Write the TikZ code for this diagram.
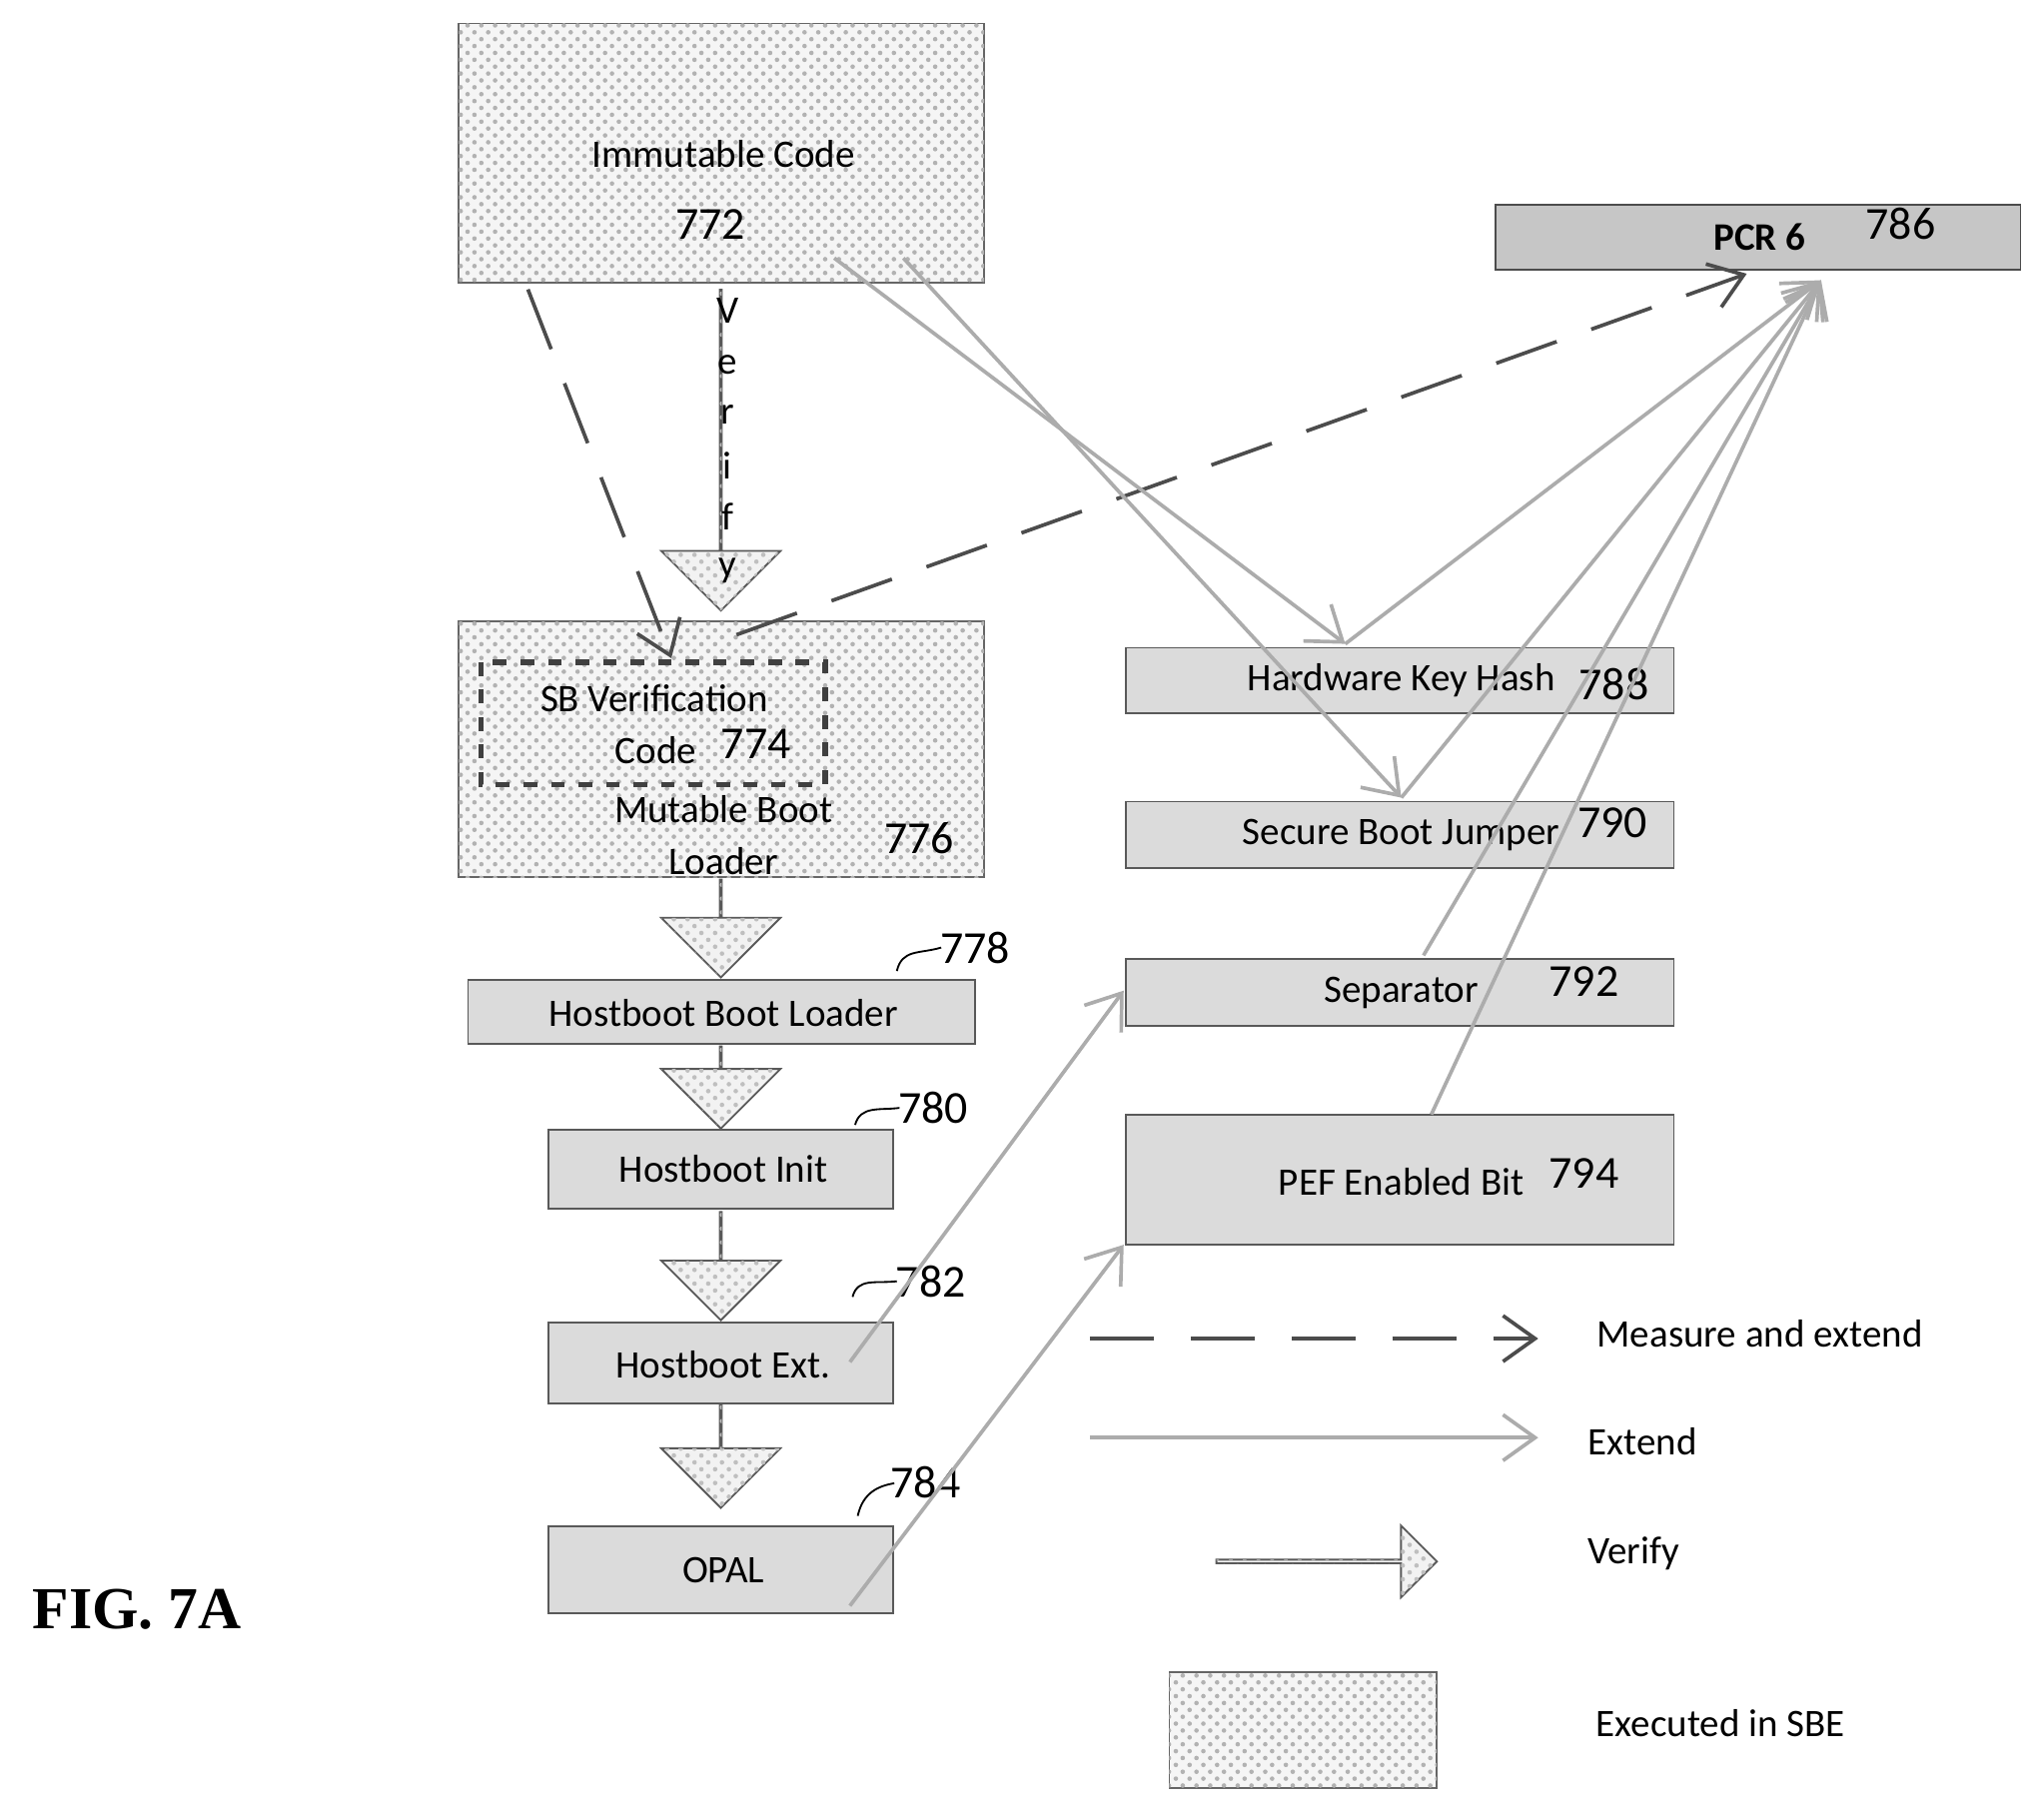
\documentclass[tikz,border=0pt]{standalone}
\usepackage{fontspec}
\setmainfont{Carlito}
\usetikzlibrary{patterns,shapes.arrows,arrows.meta}
\begin{document}
\begin{tikzpicture}[x=0.01cm,y=-0.01cm,
  sbe/.style={draw=gray!80!black,fill=gray!8,postaction={pattern=crosshatch dots,pattern color=gray!60}},
  dk/.style={draw=gray!60!black,fill=gray!45},
  md/.style={draw=gray!70!black,fill=gray!28},
  txt/.style={font=\fontsize{8.5}{10}\selectfont},
  num/.style={font=\fontsize{10}{11}\selectfont},
  harrow/.style={single arrow,draw=gray!70!black,fill=gray!10,postaction={pattern=crosshatch dots,pattern color=gray!50},single arrow head extend=0.45cm,minimum width=0.75cm,inner sep=0pt,shape border rotate=270},
  meas/.style={draw=gray!60!black,thick,dash pattern=on 14pt off 8pt,-{Straight Barb[length=7pt,width=10pt]}},
  ext/.style={draw=gray!65,thick,-{Straight Barb[length=7pt,width=10pt]}},
  lead/.style={draw=black,thin}]
\useasboundingbox (0,0) rectangle (1568,1391);
% boxes
\draw[sbe] (352,18) rectangle (755,217); \coordinate (imm) at (553,118);
\node[txt] (immt) at (555,118) {Immutable Code};
\node[num] (n772) at (545,172) {772};
\draw[dk] (1147,157) rectangle (1550,207);
\node[txt,font=\fontsize{8.5}{10}\selectfont\bfseries] (pcr) at (1350,182) {PCR 6};
\node[num] (n786) at (1458,172) {786};
\draw[sbe] (352,477) rectangle (755,673);
\draw[gray!50!black,very thick,dashed] (369,508) rectangle (633,602);
\node[txt] (sbv) at (502,536) {SB Verification};
\node[txt] (code) at (503,576) {Code};
\node[num] (n774) at (580,571) {774};
\node[txt] (mut) at (555,621) {Mutable Boot};
\node[txt] (ldr) at (555,661) {Loader};
\node[num] (n776) at (705,643) {776};
\draw[md] (359,752) rectangle (748,801); \node[txt] (hbl) at (555,777) {Hostboot Boot Loader};
\draw[md] (421,867) rectangle (685,927); \node[txt] (hbi) at (555,897) {Hostboot Init};
\draw[md] (421,1015) rectangle (685,1077); \node[txt] (hbe) at (555,1047) {Hostboot Ext.};
\draw[md] (421,1171) rectangle (685,1238); \node[txt] (opal) at (555,1205) {OPAL};
\node[num] (n778) at (748,727) {778};
\node[num] (n780) at (716,850) {780};
\node[num] (n782) at (714,983) {782};
\node[num] (n784) at (710,1137) {784};
\draw[lead] (688,745) .. controls (692,728) and (705,732) .. (722,727);
\draw[lead] (656,863) .. controls (660,848) and (675,852) .. (690,850);
\draw[lead] (654,995) .. controls (658,980) and (672,985) .. (688,983);
\draw[lead] (658,1163) .. controls (662,1145) and (674,1140) .. (686,1138);
\draw[md] (864,497) rectangle (1284,547); \node[txt] (hkh) at (1075,522) {Hardware Key Hash};
\node[num] (n788) at (1238,525) {788};
\draw[md] (864,615) rectangle (1284,666); \node[txt] (sbj) at (1075,641) {Secure Boot Jumper};
\node[num] (n790) at (1237,631) {790};
\draw[md] (864,736) rectangle (1284,787); \node[txt] (sep) at (1075,762) {Separator};
\node[num] (n792) at (1215,753) {792};
\draw[md] (864,855) rectangle (1284,955); \node[txt] (pef) at (1075,907) {PEF Enabled Bit};
\node[num] (n794) at (1215,900) {794};
% verify big arrow
\node[harrow,minimum height=246\pgflinewidth,minimum height=2.46cm] (ver) at (553,345) {};
\foreach \l/\yy in {V/238,e/280,r/318,i/357,f/396,y/438}{\node[txt] at (558,\yy) {\l};}
\node[harrow,minimum height=0.75cm] (a1) at (553,712) {};
\node[harrow,minimum height=0.63cm] (a2) at (553,834) {};
\node[harrow,minimum height=0.83cm] (a3) at (553,971) {};
\node[harrow,minimum height=0.79cm] (a4) at (553,1117) {};
% connectors
\coordinate (i1) at (405,222); \coordinate (sbt) at (515,505);
\coordinate (sbs) at (565,487); \coordinate (pcrd) at (1340,210);
\coordinate (i2) at (640,198); \coordinate (i3) at (693,198);
\coordinate (hkht) at (1032,494); \coordinate (sbjt) at (1075,612);
\coordinate (pcrs) at (1397,215);
\coordinate (sepb) at (1092,733); \coordinate (pefb) at (1098,855);
\coordinate (hbes) at (652,1045); \coordinate (sepl) at (862,760);
\coordinate (ops) at (652,1232); \coordinate (pefl) at (862,955);
\draw[meas] (i1) -- (sbt);
\draw[meas] (sbs) -- (pcrd);
\draw[ext] (i2) -- (hkht);
\draw[ext] (i3) -- (sbjt);
\draw[ext] (hkht) -- (pcrs);
\draw[ext] (sbjt) -- (pcrs);
\draw[ext] (sepb) -- (pcrs);
\draw[ext] (pefb) -- (pcrs);
\draw[ext] (hbes) -- (sepl);
\draw[ext] (ops) -- (pefl);
% legend
\coordinate (l1a) at (836,1027); \coordinate (l1b) at (1180,1027);
\coordinate (l2a) at (836,1103); \coordinate (l2b) at (1180,1103);
\draw[meas] (l1a) -- (l1b);
\draw[ext] (l2a) -- (l2b);
\node[txt] (lme) at (1350,1023) {Measure and extend};
\node[txt] (lex) at (1260,1106) {Extend};
\node[harrow,shape border rotate=0,minimum height=1.69cm,minimum width=0.55cm,single arrow head extend=0.13cm] (lv) at (1017,1198) {};
\node[txt] (lvt) at (1253,1192) {Verify};
\draw[sbe] (897,1283) rectangle (1102,1372);
\node[txt] (lsb) at (1320,1322) {Executed in SBE};
\node[font=\fontspec{Liberation Serif}\fontsize{13}{15}\selectfont\bfseries] (fig) at (105,1235) {FIG. 7A};
\end{tikzpicture}
\end{document}
